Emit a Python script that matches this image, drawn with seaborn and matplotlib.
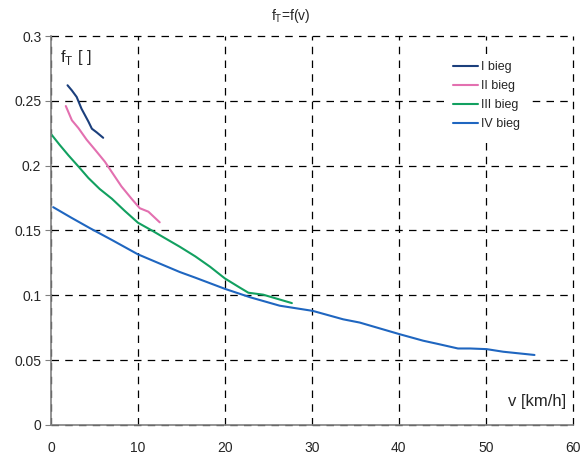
import pandas as pd
import numpy as np
import matplotlib.pyplot as plt
import seaborn as sns

# gear I
v_1 = [1.9, 2.4, 2.95, 3.5, 3.9, 4.3, 4.7, 5.25, 6.0]
f_1 = [0.262, 0.258, 0.253, 0.244, 0.239, 0.234, 0.2285, 0.2257, 0.2215]
# gear II
v_2 = [1.7, 2.4, 3.15, 4.1, 5.1, 6.2, 7.2, 8.1, 9.2, 10.2, 11.2, 12.5]
f_2 = [0.246, 0.235, 0.229, 0.220, 0.212, 0.203, 0.193, 0.184, 0.175, 0.1672, 0.1645, 0.1563]
# gear III
v_3 = [0.05, 1.0, 2.0, 3.2, 4.3, 5.6, 7.0, 8.5, 10.0, 11.6, 13.0, 14.8, 16.6, 18.3, 20.0,
       21.7, 22.7, 24.4, 27.7]
f_3 = [0.224, 0.216, 0.208, 0.199, 0.1905, 0.182, 0.1745, 0.165, 0.156, 0.150, 0.1445, 0.1375,
       0.130, 0.122, 0.113, 0.106, 0.102, 0.1005, 0.094]
# gear IV
v_4 = [0.25, 2.3, 4.5, 7.0, 10.0, 12.5, 14.8, 16.6, 20.0, 22.9, 26.3, 30.1, 33.6, 35.5, 37.8,
       40.1, 42.8, 44.5, 46.8, 48.2, 50.1, 52.0, 55.6]
f_4 = [0.168, 0.160, 0.1517, 0.1427, 0.1316, 0.1245, 0.118, 0.1136, 0.105, 0.0985, 0.092, 0.088,
       0.0815, 0.079, 0.0745, 0.070, 0.065, 0.0625, 0.059, 0.059, 0.0585, 0.0565, 0.054]

gear_names = ['I bieg', 'II bieg', 'III bieg', 'IV bieg']
gear_colors = ['#1b3f7c', '#e370b0', '#12a060', '#1f66c0']

frames = []
for name, v, f in zip(gear_names, [v_1, v_2, v_3, v_4], [f_1, f_2, f_3, f_4]):
    frames.append(pd.DataFrame({'v': v, 'f': f, 'gear': name}))
df = pd.concat(frames, ignore_index=True)

sns.set_style('white')
plt.rcParams['font.family'] = ['Liberation Sans', 'DejaVu Sans']

fig = plt.figure(figsize=(5.81, 4.54), dpi=100)
ax = fig.add_axes([0.0878, 0.0639, 0.898, 0.8568])

sns.lineplot(data=df, x='v', y='f', hue='gear', hue_order=gear_names,
             palette=gear_colors, sort=False, estimator=None, linewidth=1.5, ax=ax)

ax.set_xlim(0, 60)
ax.set_ylim(0, 0.3)
ax.set_xticks(np.arange(0, 61, 10))
ax.set_yticks(np.arange(0, 0.301, 0.05))
ax.set_yticklabels(['0', '0.05', '0.1', '0.15', '0.2', '0.25', '0.3'])
ax.grid(True, color='black', linestyle=(0, (6, 5)), linewidth=0.9)
for gl in ax.get_xgridlines() + ax.get_ygridlines():
    gl.set_clip_on(False)
ax.set_axisbelow(True)

for s in ['top', 'right']:
    ax.spines[s].set_visible(False)
for s in ['left', 'bottom']:
    ax.spines[s].set_color('#808080')
    ax.spines[s].set_linewidth(1.2)
ax.tick_params(axis='y', left=True, length=4, color='#808080', labelsize=10, pad=3)
ax.tick_params(axis='x', bottom=False, labelsize=10, pad=8)

ax.set_xlabel('')
ax.set_ylabel('')
fig.text(0.5, 0.965, r'f$_\mathregular{T}$=f(v)', ha='center', va='center', fontsize=10)
ax.text(0.017, 0.945, r'f$_\mathregular{T}$ [ ]', transform=ax.transAxes, fontsize=12,
        ha='left', va='center')
ax.text(0.987, 0.06, 'v [km/h]', transform=ax.transAxes, fontsize=12, ha='right', va='center')

leg = ax.legend(loc='upper left', bbox_to_anchor=(0.745, 0.97), frameon=True, fontsize=9,
                handlelength=2.0, handletextpad=0.2, labelspacing=0.55,
                borderpad=0.6, fancybox=False)
leg.get_frame().set_facecolor('white')
leg.get_frame().set_edgecolor('none')
leg.get_frame().set_alpha(1)
for line in leg.get_lines():
    line.set_linewidth(1.5)

fig.savefig('out.png', dpi=100)
